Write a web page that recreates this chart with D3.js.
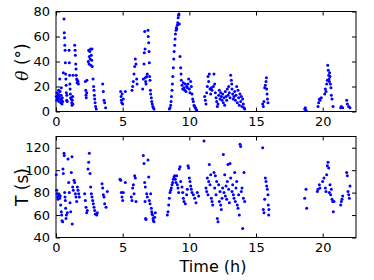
<!DOCTYPE html>
<html>
<head>
<meta charset="utf-8">
<script src="https://cdn.jsdelivr.net/npm/d3@7"></script>
<style>
  body { margin: 0; background: #fff; }
  text { font-family: 'DejaVu Sans', sans-serif; }
</style>
</head>
<body>
<script>
const width = 374;
const height = 280;

// Time axis ticks, shared by both panels.
const timeTicks = [0, 5, 10, 15, 20];
const thetaTicks = [0, 20, 40, 60, 80];
const periodTicks = [40, 60, 80, 100, 120];

// [time (h), angle (deg)]
const thetaPoints = [
  [0.02,12],[0.05,9],[0.07,15],[0.1,11],[0.12,13],[0.15,10],[0.18,14],[0.2,17],[0.22,8],[0.25,12],
  [0.28,26],[0.3,16],[0.33,10],[0.36,7],[0.38,13],[0.4,19],[0.42,9],[0.45,6],[0.47,11],[0.5,8],
  [0.55,31],[0.6,74],[0.62,63],[0.64,59],[0.66,53],[0.68,49],[0.7,39],[0.72,30],[0.74,26],[0.76,21],
  [0.78,15],[0.8,9],[0.82,13],[0.84,8],
  [0.98,49],[1.0,39],[1.02,29],[1.04,22],[1.06,18],[1.08,14],[1.1,11],[1.15,10],[1.18,7],[1.2,5],
  [1.22,9],[1.25,12],[1.27,6],[1.28,29],
  [1.4,53],[1.43,49],[1.45,45],[1.48,38],[1.5,34],[1.52,29],[1.55,26],[1.58,23],[1.6,25],[1.65,24],[1.68,22],
  [2.2,24],[2.23,17],[2.25,13],[2.27,11],[2.3,15],[2.32,25],
  [2.42,40],[2.45,49],[2.48,38],[2.5,44],[2.53,48],[2.56,42],[2.6,50],[2.62,37],[2.65,45],[2.68,41],[2.7,50],[2.72,36],
  [2.78,26],[2.82,20],[2.85,17],[2.88,13],[2.9,10],[2.93,7],[2.97,4],[3.02,2],
  [3.5,22],[3.55,16],[3.6,9],[3.65,7],[3.72,3],
  [4.85,16],[4.88,12],[4.9,9],[4.93,7],[4.96,14],[5.0,6],[5.05,10],[5.2,16],
  [5.7,17],[5.75,20],[5.8,24],[5.85,30],[5.9,36],[5.95,42],[6.0,38],[6.05,26],[6.08,22],
  [6.5,18],[6.55,26],[6.6,38],[6.62,47],[6.65,64],[6.68,50],[6.7,27],[6.72,24],[6.75,22],[6.8,28],
  [6.85,30],[6.9,65],[6.92,60],[6.95,55],[6.98,48],[7.0,39],[7.02,28],[7.05,25],[7.08,17],[7.1,14],
  [7.15,11],[7.18,8],[7.22,6],[7.26,4],[7.3,3],[7.35,2],
  [8.5,2],[8.55,3],[8.6,5],[8.63,8],[8.66,12],[8.7,17],[8.73,22],[8.76,28],[8.8,35],[8.83,42],
  [8.86,48],[8.9,53],[8.93,58],[8.96,62],[9.0,65],[9.03,67],[9.06,66],[9.1,69],[9.13,71],[9.16,75],
  [9.2,77],[9.22,78],[9.25,70],[9.3,44],[9.35,35],[9.38,30],[9.4,25],[9.45,21],[9.5,18],[9.55,23],
  [9.6,19],[9.65,17],[9.7,22],[9.75,16],[9.8,20],[9.85,19],
  [9.9,22],[9.95,26],[10.0,18],[10.05,15],[10.1,24],[10.15,20],[10.2,14],[10.25,10],[10.3,8],[10.35,5],
  [10.4,4],[10.45,3],[10.5,2],[10.55,1],
  [11.15,12],[11.2,9],[11.25,6],[11.3,15],[11.35,20],[11.4,28],[11.45,24],[11.5,30],[11.55,18],[11.6,14],
  [11.65,19],[11.7,17],
  [11.8,20],[11.85,30],[11.9,22],[11.95,15],[12.0,11],[12.05,8],[12.1,4],[12.15,6],[12.2,13],[12.25,17],
  [12.3,10],[12.35,15],[12.4,12],[12.45,9],
  [12.5,14],[12.55,7],[12.6,11],[12.65,5],[12.7,16],[12.75,12],[12.8,9],[12.85,18],[12.9,13],[12.95,20],
  [13.0,15],[13.05,11],
  [13.1,29],[13.15,25],[13.18,22],[13.2,18],[13.25,14],[13.3,10],[13.35,12],
  [13.4,16],[13.45,9],[13.5,13],[13.55,20],[13.6,7],[13.65,17],[13.7,11],[13.75,5],[13.8,14],[13.85,8],
  [13.9,12],[13.95,4],[14.0,10],[14.05,6],[14.1,3],[14.15,2],
  [15.5,6],[15.55,4],[15.6,8],[15.65,19],[15.7,21],[15.75,24],[15.78,27],[15.8,18],[15.83,14],[15.86,10],[15.9,7],
  [18.65,2],[18.7,3],[18.75,1],
  [19.65,4],[19.7,7],[19.75,10],[19.8,9],[19.9,11],
  [20.15,14],[20.2,18],[20.25,16],[20.3,22],[20.35,25],[20.38,37],[20.42,33],[20.45,29],[20.48,26],[20.5,24],
  [20.52,31],[20.55,28],[20.58,22],[20.62,19],[20.65,13],[20.7,10],[20.78,4],
  [21.35,3],[21.4,4],[21.5,3],[21.8,9],[21.85,6],[21.95,4],[22.05,3]
];

// [time (h), period (s)]
const periodPoints = [
  [0.02,96],[0.05,82],[0.08,79],[0.1,76],[0.15,74],[0.2,77],[0.25,78],[0.28,75],
  [0.32,77],[0.35,69],[0.4,63],[0.42,60],[0.45,55],[0.5,54],[0.52,101],[0.55,97],[0.6,115],[0.62,113],
  [0.65,80],[0.68,76],[0.7,73],[0.72,66],[0.75,57],[0.78,60],
  [0.85,62],[0.9,110],[0.95,89],[1.0,80],[1.05,71],[1.1,63],[1.15,98],[1.2,112],[1.22,52],[1.25,85],
  [1.3,82],[1.35,91],[1.4,89],[1.45,79],[1.5,76],[1.55,72],[1.6,85],[1.65,82],[1.7,79],[1.75,76],
  [2.15,79],[2.2,73],[2.25,67],[2.3,62],[2.35,64],[2.4,101],[2.45,107],[2.5,115],[2.55,97],[2.6,85],
  [2.65,79],[2.7,76],[2.75,73],[2.8,70],[2.85,67],[2.9,64],[2.95,61],[3.05,60],[3.1,62],
  [3.45,88],[3.5,84],[3.55,78],[3.6,76],[3.65,70],[3.75,67],[3.85,81],
  [4.8,92],[4.85,91],[4.9,80],[4.95,76],[5.0,73],[5.05,80],[5.2,89],
  [5.65,76],[5.7,73],[5.75,84],[5.8,87],[5.85,79],[5.9,95],[5.95,93],[6.0,72],
  [6.55,113],[6.6,106],[6.65,89],[6.68,72],[6.7,85],[6.72,57],[6.75,56],[6.8,79],[6.85,76],[6.9,109],
  [6.95,94],[7.0,73],[7.05,70],[7.1,79],[7.15,66],[7.18,63],[7.2,61],[7.25,60],[7.28,57],[7.3,55],
  [7.35,54],[7.4,58],[7.45,62],
  [8.35,60],[8.4,63],[8.45,69],[8.5,75],[8.55,80],[8.6,82],[8.65,84],[8.7,87],[8.75,89],[8.8,92],
  [8.85,94],[8.9,95],[8.95,92],[9.0,89],[9.05,95],[9.1,87],[9.15,84],[9.2,80],[9.25,101],[9.3,103],
  [9.35,90],[9.45,85],[9.5,80],[9.55,75],[9.6,72],[9.7,70],[9.8,78],[9.85,83],
  [9.9,104],[9.95,102],[10.0,93],[10.05,90],[10.1,86],[10.15,83],[10.2,80],[10.3,78],[10.4,75],[10.5,71],
  [10.6,80],[10.7,77],
  [11.1,126],[11.25,84],[11.3,81],[11.35,93],[11.4,78],[11.45,90],[11.5,105],[11.55,87],[11.6,96],[11.65,75],
  [11.7,72],[11.75,69],
  [11.85,98],[11.9,84],[11.95,95],[12.0,78],[12.05,90],[12.1,57],[12.15,54],[12.2,87],[12.25,72],[12.3,81],
  [12.35,69],[12.4,65],[12.45,75],
  [12.5,84],[12.55,114],[12.6,80],[12.65,96],[12.7,77],[12.75,86],[12.8,74],[12.85,90],[12.9,105],[12.95,83],
  [13.0,71],[13.05,106],[13.1,93],
  [13.2,81],[13.25,87],[13.3,78],[13.35,75],[13.4,98],[13.45,72],[13.5,84],[13.55,90],[13.6,69],[13.65,66],
  [13.7,78],[13.75,60],[13.8,123],[13.85,121],[13.9,81],[13.95,84],[14.0,48],[14.05,75],[14.1,98],[14.15,72],
  [15.5,120],[15.55,65],[15.6,62],[15.65,74],[15.7,93],[15.75,90],[15.8,86],[15.85,83],[15.9,78],[15.92,69],
  [15.95,60],[15.97,65],
  [18.65,75],[18.75,83],[18.8,66],
  [19.6,81],[19.65,83],[19.75,87],[19.8,84],[20.0,90],[20.1,93],[20.2,84],[20.25,81],[20.3,96],[20.35,104],
  [20.4,107],[20.45,102],[20.5,80],[20.55,87],[20.6,78],[20.65,83],[20.7,74],[20.75,72],[20.8,63],[20.85,72],
  [21.35,69],[21.4,72],[21.45,74],[21.5,77],[21.8,98],[21.85,95],[21.9,81],[21.95,78],[22.0,75],[22.05,86]
];

let svg = d3
  .select('body')
  .append('svg')
  .attr('width', width)
  .attr('height', height);

let left = 56;
let right = 356;

let xScale = d3.scaleLinear().domain([0, 22.5]).range([left, right]);

// Panel builder: frame, inward ticks on all four sides, labels and dots.
function panel(points, yDomain, yTicks, top, bottom) {
  let yScale = d3.scaleLinear().domain(yDomain).range([bottom, top]);
  let g = svg.append('g');

  g.append('g')
    .attr('transform', `translate(0, ${bottom})`)
    .call(d3.axisBottom(xScale).tickValues(timeTicks).tickSizeInner(-4).tickSizeOuter(0).tickPadding(5));
  g.append('g')
    .attr('transform', `translate(0, ${top})`)
    .call(d3.axisTop(xScale).tickValues(timeTicks).tickSizeInner(-4).tickSizeOuter(0).tickFormat(''));
  g.append('g')
    .attr('transform', `translate(${left}, 0)`)
    .call(d3.axisLeft(yScale).tickValues(yTicks).tickSizeInner(-4).tickSizeOuter(0).tickPadding(6));
  g.append('g')
    .attr('transform', `translate(${right}, 0)`)
    .call(d3.axisRight(yScale).tickValues(yTicks).tickSizeInner(-4).tickSizeOuter(0).tickFormat(''));

  g.selectAll('.domain').remove();
  g.selectAll('.tick line').attr('stroke', '#000');
  g.selectAll('.tick text').attr('font-size', 13).attr('fill', '#000');

  g.append('rect')
    .attr('x', left)
    .attr('y', top)
    .attr('width', right - left)
    .attr('height', bottom - top)
    .attr('fill', 'none')
    .attr('stroke', '#000');

  g.append('g')
    .selectAll('circle')
    .data(points)
    .join('circle')
    .attr('cx', (d) => xScale(d[0]))
    .attr('cy', (d) => yScale(d[1]))
    .attr('r', 1.5)
    .attr('fill', '#0000ff');

  return g;
}

let topPanel = panel(thetaPoints, [0, 80], thetaTicks, 11.5, 111.5);
let bottomPanel = panel(periodPoints, [40, 130], periodTicks, 136.5, 237.5);

// Axis titles.
let thetaLabel = svg
  .append('text')
  .attr('transform', 'translate(28, 62) rotate(-90)')
  .attr('text-anchor', 'middle')
  .attr('font-size', 17);
thetaLabel.append('tspan').attr('font-style', 'italic').attr('font-family', 'DejaVu Serif').text('θ');
thetaLabel.append('tspan').text(' (°)');

svg
  .append('text')
  .attr('transform', 'translate(28, 187) rotate(-90)')
  .attr('text-anchor', 'middle')
  .attr('font-size', 17)
  .text('T (s)');

svg
  .append('text')
  .attr('x', 213)
  .attr('y', 272)
  .attr('text-anchor', 'middle')
  .attr('font-size', 16)
  .text('Time (h)');
</script>
</body>
</html>
